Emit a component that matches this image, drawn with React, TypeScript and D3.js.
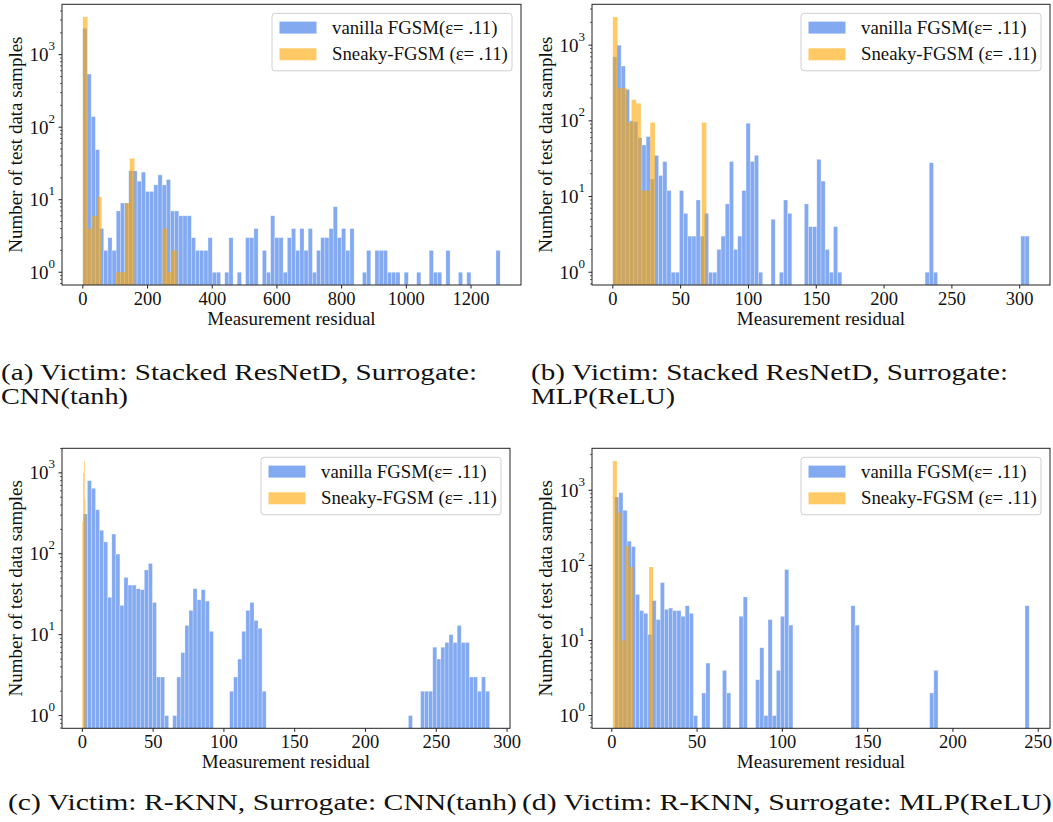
import React from "react";
import * as d3 from "d3";

const LEGEND_LABELS = ["vanilla FGSM(ε= .11)", "Sneaky-FGSM (ε= .11)"];
const X_LABEL = "Measurement residual";
const Y_LABEL = "Number of test data samples";

// ---------- (a) ----------
const aBlueStart = 0;
const aBlueBin = 12.9;
const aBlueCounts = [
  2300, 540, 140, 49, 4, 2, 3, 2, 7, 9,
  9, 25, 25, 18, 24, 13, 13, 16, 22, 16,
  19, 7, 7, 6, 6, 6, 3, 2, 2, 2,
  3, 1, 1, 0, 1, 3, 0, 1, 0, 3,
  3, 4, 0, 2, 1, 6, 3, 3, 1, 3,
  4, 2, 4, 2, 4, 1, 2, 3, 3, 4,
  8, 3, 4, 2, 4, 0, 0, 1, 2, 0,
  2, 2, 2, 1, 1, 1, 0, 1, 0, 0,
  1, 0, 0, 2, 1, 1, 0, 2, 0, 0,
  1, 0, 1, 0, 0, 0, 0, 0, 0, 2,
];
const aOrangeStart = 0;
const aOrangeBin = 14.5;
const aOrangeCounts = [3300, 4, 6, 11, 0, 0, 0, 1, 1, 9, 37, 0, 0, 0, 0, 0, 0, 4, 1, 2];
const aXTicks = [0, 200, 400, 600, 800, 1000, 1200];
const aCaption = ["(a) Victim: Stacked ResNetD, Surrogate:", "CNN(tanh)"];

// ---------- (b) ----------
const bBlueStart = 0;
const bBlueBin = 3.07;
const bBlueCounts = [
  700, 1000, 530, 260, 100, 97, 60, 48, 62, 17,
  35, 19, 29, 12, 1, 1, 12, 6, 3, 3,
  9, 3, 6, 1, 1, 2, 3, 8, 29, 2,
  3, 12, 93, 29, 35, 1, 0, 0, 5, 0,
  1, 9, 6, 0, 0, 0, 8, 4, 4, 31,
  16, 2, 1, 4, 1, 0, 0, 0, 0, 0,
  0, 0, 0, 0, 0, 0, 0, 0, 0, 0,
  0, 0, 0, 0, 0, 1, 28, 1, 0, 0,
  0, 0, 0, 0, 0, 0, 0, 0, 0, 0,
  0, 0, 0, 0, 0, 0, 0, 0, 3, 3,
];
const bOrangeStart = 0;
const bOrangeBin = 3.45;
const bOrangeCounts = [2350, 270, 270, 95, 190, 170, 12, 12, 95, 0, 0, 0, 0, 0, 0, 0, 0, 0, 0, 95];
const bXTicks = [0, 50, 100, 150, 200, 250, 300];
const bCaption = ["(b) Victim: Stacked ResNetD, Surrogate:", "MLP(ReLU)"];

// ---------- (c) ----------
const cBlueStart = 0.7;
const cBlueBin = 2.87;
const cBlueCounts = [
  310, 800, 645, 350, 195, 140, 29, 175, 99, 23,
  51, 41, 41, 37, 36, 63, 76, 25, 3, 3,
  1, 0, 1, 3, 6, 13, 20, 37, 27, 36,
  26, 11, 0, 0, 0, 0, 2, 3, 5, 11,
  20, 25, 15, 12, 2, 0, 0, 0, 0, 0,
  0, 0, 0, 0, 0, 0, 0, 0, 0, 0,
  0, 0, 0, 0, 0, 0, 0, 0, 0, 0,
  0, 0, 0, 0, 0, 0, 0, 0, 0, 0,
  1, 0, 0, 2, 2, 2, 7, 5, 7, 8,
  10, 8, 13, 8, 8, 3, 3, 2, 3, 2,
];
const cOrangeStart = 0;
const cOrangeBin = 0.55;
const cOrangeCounts = [250, 1000, 1400, 470, 300];
const cXTicks = [0, 50, 100, 150, 200, 250, 300];
const cCaption = ["(c) Victim: R-KNN, Surrogate: CNN(tanh)"];

// ---------- (d) ----------
const dBlueStart = 1.7;
const dBlueBin = 2.43;
const dBlueCounts = [
  815, 930, 540, 210, 178, 41, 25, 23, 12, 34,
  19, 59, 26, 27, 25, 25, 21, 29, 23, 1,
  0, 2, 5, 0, 0, 0, 4, 2, 0, 0,
  21, 38, 0, 0, 3, 8, 1, 19, 1, 4,
  21, 88, 16, 0, 0, 0, 0, 0, 0, 0,
  0, 0, 0, 0, 0, 0, 0, 29, 16, 0,
  0, 0, 0, 0, 0, 0, 0, 0, 0, 0,
  0, 0, 0, 0, 0, 0, 2, 4, 0, 0,
  0, 0, 0, 0, 0, 0, 0, 0, 0, 0,
  0, 0, 0, 0, 0, 0, 0, 0, 0, 29,
];
const dOrangeStart = 0.6;
const dOrangeBin = 2.36;
const dOrangeCounts = [2450, 500, 10, 180, 95, 0, 0, 0, 0, 95];
const dXTicks = [0, 50, 100, 150, 200, 250];
const dCaption = ["(d) Victim: R-KNN, Surrogate: MLP(ReLU)"];

const BLUE = "#6495ED";
const ORANGE = "#FFA500";
const FONT = "'Liberation Serif', 'Times New Roman', serif";

type Series = { start: number; bin: number; counts: number[] };
type Frame = { l: number; r: number; t: number; b: number };

function Panel({ frame, blue, orange, xTicks }: { frame: Frame; blue: Series; orange: Series; xTicks: number[] }) {
  const { l, r, t, b } = frame;
  const x0 = Math.min(blue.start, orange.start);
  const x1 = Math.max(blue.start + blue.bin * blue.counts.length, orange.start + orange.bin * orange.counts.length);
  const pad = (x1 - x0) * 0.05;
  const xs = d3.scaleLinear().domain([x0 - pad, x1 + pad]).range([l, r]);
  const maxC = d3.max([...blue.counts, ...orange.counts]) as number;
  const lmax = Math.log10(maxC);
  const ys = d3.scaleLog().domain([Math.pow(10, -0.05 * lmax), Math.pow(10, 1.05 * lmax)]).range([b, t]);
  const [dLo, dHi] = ys.domain();

  const bars = (s: Series, color: string, op: number, stroke: boolean) =>
    s.counts.map((c, i) => {
      if (c <= 0) return null;
      const xa = xs(s.start + i * s.bin);
      const xb = xs(s.start + (i + 1) * s.bin);
      const y = ys(c);
      return (
        <rect
          key={i}
          x={xa}
          y={y}
          width={xb - xa}
          height={b - y}
          fill={color}
          fillOpacity={op}
          stroke={stroke ? "#ffffff" : "none"}
          strokeOpacity={0.45}
          strokeWidth={0.6}
        />
      );
    });

  const majors: number[] = [];
  const minors: number[] = [];
  for (let e = -2; e <= 5; e++) {
    for (let m = 1; m <= 9; m++) {
      const v = m * Math.pow(10, e);
      if (v < dLo || v > dHi) continue;
      if (m === 1) majors.push(e);
      else minors.push(v);
    }
  }

  const legW = 240;
  const legH = 57.5;
  const legL = r - 9 - legW;
  const legT = t + 9;
  const cy = (t + b) / 2;

  return (
    <g>
      <g>{bars(blue, BLUE, 0.8, true)}</g>
      <g>{bars(orange, ORANGE, 0.6, false)}</g>
      <rect x={l} y={t} width={r - l} height={b - t} fill="none" stroke="#222" strokeWidth={1} />
      {xTicks.map((v) => (
        <g key={v}>
          <line x1={xs(v)} x2={xs(v)} y1={b} y2={b + 3.5} stroke="#222" strokeWidth={1} />
          <text x={xs(v)} y={b + 19.5} fontSize={18.5} textAnchor="middle" fill="#111">
            {v}
          </text>
        </g>
      ))}
      {minors.map((v, i) => (
        <line key={"m" + i} x1={l - 2} x2={l} y1={ys(v)} y2={ys(v)} stroke="#222" strokeWidth={0.7} />
      ))}
      {majors.map((e) => {
        const y = ys(Math.pow(10, e));
        return (
          <g key={"M" + e}>
            <line x1={l - 3.5} x2={l} y1={y} y2={y} stroke="#222" strokeWidth={1} />
            <text x={l - 7} y={y + 6.5} fontSize={19} textAnchor="end" fill="#111">
              10
              <tspan fontSize={13} dy={-11}>{e}</tspan>
            </text>
          </g>
        );
      })}
      <text x={(l + r) / 2} y={b + 40} fontSize={19} textAnchor="middle" fill="#111">
        {X_LABEL}
      </text>
      <text
        transform={`translate(${l - 40},${cy}) rotate(-90)`}
        fontSize={19}
        textAnchor="middle"
        fill="#111"
      >
        {Y_LABEL}
      </text>
      <g>
        <rect x={legL} y={legT} width={legW} height={legH} rx={3} fill="#fff" fillOpacity={0.8} stroke="#d0d0d0" strokeWidth={1} />
        {[BLUE, ORANGE].map((c, i) => {
          const rowC = legT + 14.3 + i * 26.7;
          return (
            <g key={i}>
              <rect x={legL + 7.5} y={rowC - 6} width={37} height={12} fill={c} fillOpacity={i === 0 ? 0.8 : 0.6} />
              <text x={legL + 60} y={rowC + 6} fontSize={18.8} fill="#111">
                {LEGEND_LABELS[i]}
              </text>
            </g>
          );
        })}
      </g>
    </g>
  );
}

function Caption({ lines, x, y, widths }: { lines: string[]; x: number; y: number; widths: number[] }) {
  return (
    <g>
      {lines.map((s, i) => (
        <text
          key={i}
          x={x}
          y={y + i * 24}
          fontSize={22.5}
          fill="#111"
          textLength={widths[i]}
          lengthAdjust="spacingAndGlyphs"
        >
          {s}
        </text>
      ))}
    </g>
  );
}

export default function App() {
  const fa: Frame = { l: 62, r: 521, t: 4.3, b: 285 };
  const fb: Frame = { l: 592, r: 1050, t: 4.3, b: 285 };
  const fc: Frame = { l: 62, r: 510, t: 448.3, b: 728.3 };
  const fd: Frame = { l: 592, r: 1050, t: 448.3, b: 728.3 };
  return (
    <svg
      width={1053}
      height={822}
      style={{ position: "absolute", left: 0, top: 0, display: "block", background: "#fff" }}
      fontFamily={FONT}
    >
      <rect x={0} y={0} width={1053} height={822} fill="#fff" />
      <Panel
        frame={fa}
        blue={{ start: aBlueStart, bin: aBlueBin, counts: aBlueCounts }}
        orange={{ start: aOrangeStart, bin: aOrangeBin, counts: aOrangeCounts }}
        xTicks={aXTicks}
      />
      <Panel
        frame={fb}
        blue={{ start: bBlueStart, bin: bBlueBin, counts: bBlueCounts }}
        orange={{ start: bOrangeStart, bin: bOrangeBin, counts: bOrangeCounts }}
        xTicks={bXTicks}
      />
      <Panel
        frame={fc}
        blue={{ start: cBlueStart, bin: cBlueBin, counts: cBlueCounts }}
        orange={{ start: cOrangeStart, bin: cOrangeBin, counts: cOrangeCounts }}
        xTicks={cXTicks}
      />
      <Panel
        frame={fd}
        blue={{ start: dBlueStart, bin: dBlueBin, counts: dBlueCounts }}
        orange={{ start: dOrangeStart, bin: dOrangeBin, counts: dOrangeCounts }}
        xTicks={dXTicks}
      />
      <Caption lines={aCaption} x={1} y={379.5} widths={[476, 127]} />
      <Caption lines={bCaption} x={531} y={379.5} widths={[477, 144]} />
      <Caption lines={cCaption} x={8} y={809.5} widths={[509]} />
      <Caption lines={dCaption} x={522} y={809.5} widths={[530]} />
    </svg>
  );
}
